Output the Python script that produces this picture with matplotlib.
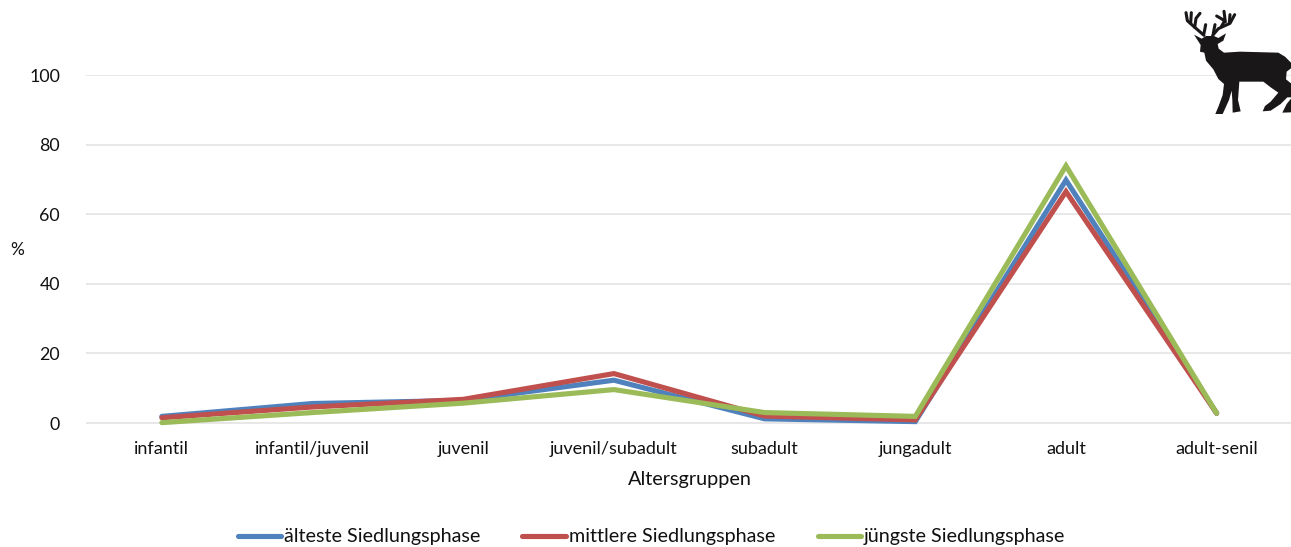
import matplotlib
matplotlib.use("Agg")
import matplotlib.pyplot as plt
from matplotlib.patches import Polygon

plt.rcParams['font.family'] = ['Lato', 'DejaVu Sans']

# ── data ─────────────────────────────────────────────────────────
categories = ["infantil", "infantil/juvenil", "juvenil", "juvenil/subadult",
              "subadult", "jungadult", "adult", "adult-senil"]
aelteste = [1.9, 5.6, 6.5, 12.3, 1.2, 0.4, 69.8, 2.8]
mittlere = [1.5, 4.6, 6.8, 14.2, 2.0, 0.9, 66.5, 2.8]
juengste = [0.1, 3.0, 5.7, 9.6, 3.0, 1.9, 73.9, 2.8]
yticks = [0, 20, 40, 60, 80, 100]

series_names = ["älteste Siedlungsphase", "mittlere Siedlungsphase", "jüngste Siedlungsphase"]
colors = ["#4f81bd", "#c0504d", "#9bbb59"]

W, H = 1291, 547
fig = plt.figure(figsize=(W / 100, H / 100), dpi=100)
ax = fig.add_axes([86.5 / W, 1 - 423 / H, (1292 - 86.5) / W, 348 / H])

# ── lines ────────────────────────────────────────────────────────
x = list(range(len(categories)))
for vals, name, c in zip([aelteste, mittlere, juengste], series_names, colors):
    ax.plot(x, vals, color=c, lw=3.7, label=name, solid_joinstyle='miter',
            solid_capstyle='round', clip_on=False, zorder=3)

ax.set_xlim(-0.5, 7.5)
ax.set_ylim(0, 100)
ax.set_yticks(yticks)
ax.set_xticks(x)
ax.set_xticklabels(categories, fontsize=13, color='#111111')
ax.tick_params(axis='both', length=0)
ax.tick_params(axis='x', pad=13)
ax.tick_params(axis='y', labelsize=12.8, pad=19, labelcolor='#111111')
ax.grid(axis='y', color='#e6e6e6', lw=1.3)
ax.set_axisbelow(True)
for s in ['top', 'right', 'left']:
    ax.spines[s].set_visible(False)
ax.spines['bottom'].set_color('#e6e6e6')
ax.spines['bottom'].set_linewidth(1.3)

fig.text(17.5 / W, 1 - 250 / H, "%", fontsize=12.5, ha='center', va='center', color='#111111')
fig.text(689.5 / W, 1 - 479 / H, "Altersgruppen", fontsize=14.3, ha='center', va='center', color='#111111')

# legend positioned by hand, the entries are unevenly spaced
leg_x = [(238, 281, 284), (522, 566, 569), (818, 861, 864)]
overlay = fig.add_axes([0, 0, 1, 1], facecolor='none')
overlay.set_xlim(0, W)
overlay.set_ylim(H, 0)
overlay.axis('off')
for (x0, x1, xt), name, c in zip(leg_x, series_names, colors):
    overlay.plot([x0, x1], [536, 536], color=c, lw=3.7, solid_capstyle='round')
    overlay.text(xt, 536.5, name, fontsize=14.2, va='center', ha='left', color='#111111')

def deer_px(pts):
    return [(1150 + a / 3, b / 3) for a, b in pts]

body = [(132, 104), (155, 116), (168, 108), (192, 108), (205, 114), (228, 100), (220, 122),
        (203, 132), (206, 146), (222, 158), (270, 155), (385, 158), (405, 170), (423, 188),
        (423, 205), (410, 215), (408, 238), (423, 250), (423, 292), (412, 292), (392, 312),
        (362, 332), (338, 334), (345, 318), (362, 305), (385, 278), (362, 262), (340, 245),
        (268, 245), (264, 300), (272, 334), (248, 338), (247, 300), (245, 272), (237, 300),
        (218, 342), (196, 342), (206, 318), (218, 285), (222, 252), (205, 237), (190, 208),
        (168, 182), (163, 158), (150, 155), (152, 135)]
overlay.add_patch(Polygon(deer_px(body), closed=True, fc='#1a1718', ec='none'))
overlay.add_patch(Polygon(deer_px([(423, 296), (423, 337), (397, 338), (410, 312)]),
                          closed=True, fc='#1a1718', ec='none'))
antlers = [
    [(162, 106), (132, 80), (112, 62), (108, 38)],
    [(122, 70), (124, 38)],
    [(134, 82), (138, 55), (150, 40)],
    [(162, 100), (167, 74)],
    [(188, 106), (205, 86), (240, 70), (254, 44)],
    [(190, 100), (195, 74)],
    [(214, 80), (224, 62), (200, 48)],
    [(226, 66), (222, 34)],
    [(238, 68), (240, 44)],
]
for a in antlers:
    xs, ys = zip(*deer_px(a))
    overlay.plot(xs, ys, color='#1a1718', lw=2.2, solid_capstyle='round')

fig.savefig("out.png", dpi=100)
